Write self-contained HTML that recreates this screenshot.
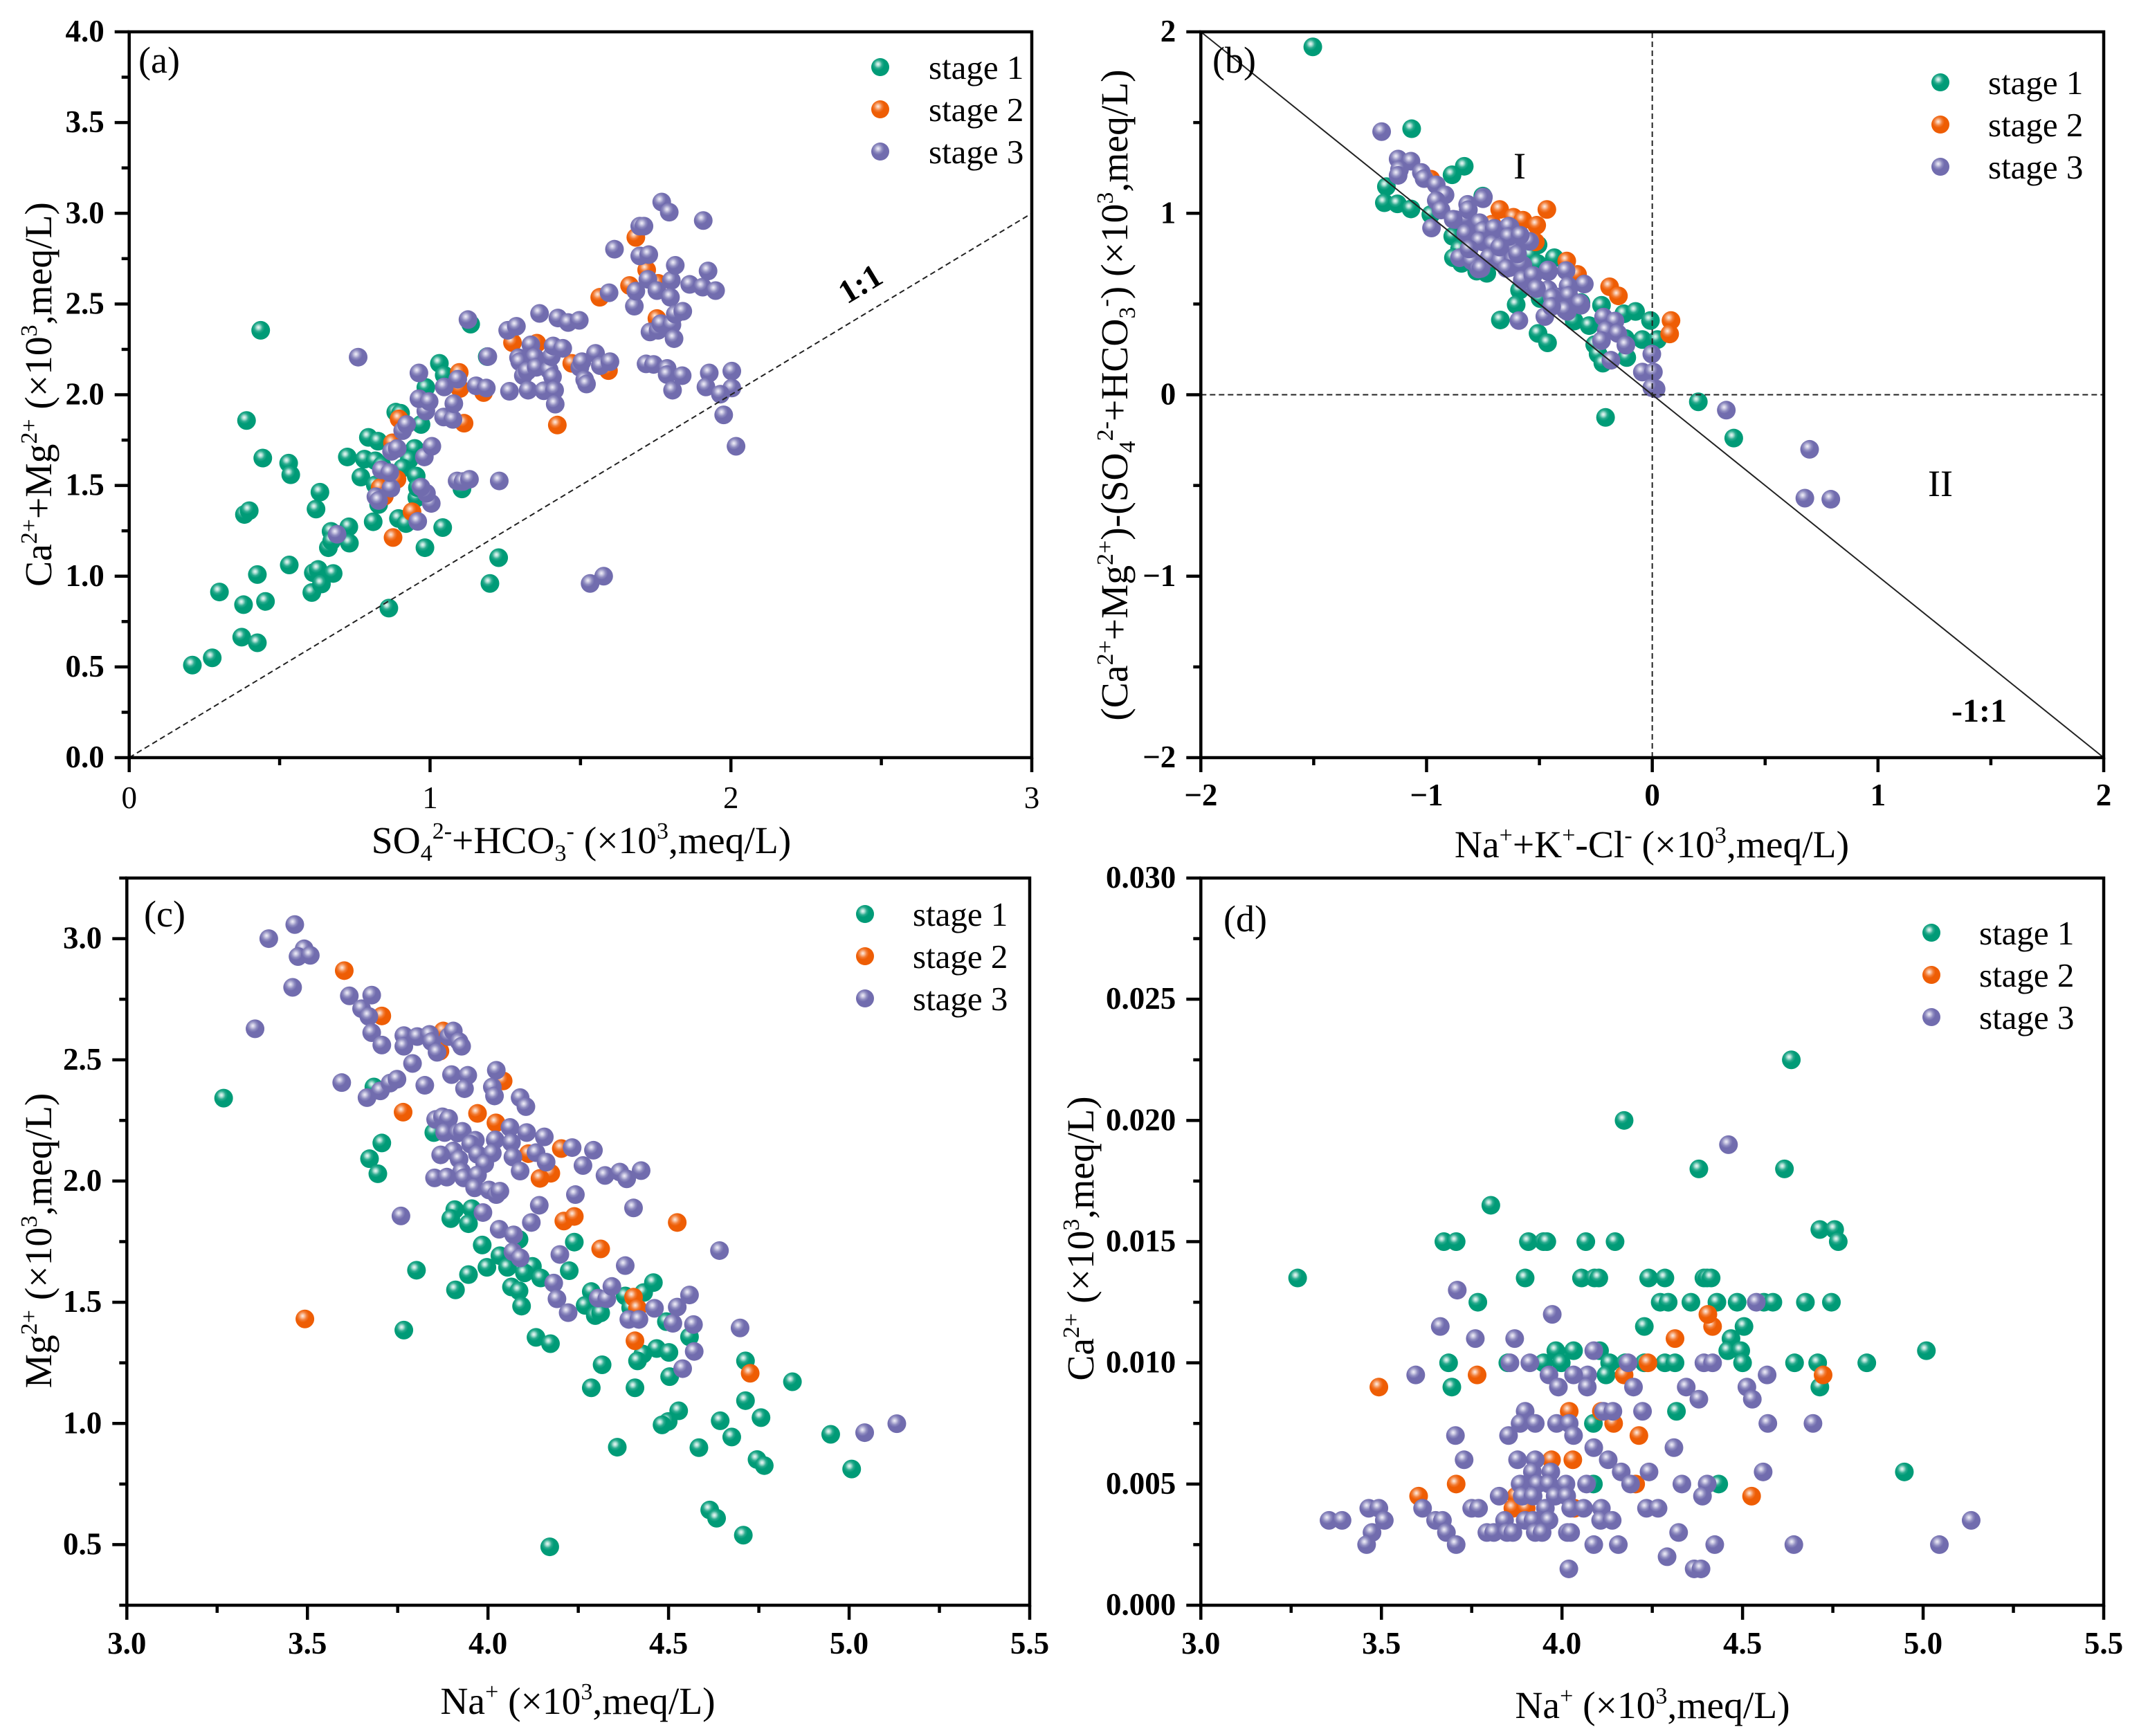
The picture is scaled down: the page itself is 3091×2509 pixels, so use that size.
<!DOCTYPE html>
<html lang="en">
<head>
<meta charset="utf-8">
<title>Hydrochemical ion relationship scatter plots</title>
<style>
  html, body { margin: 0; padding: 0; background: #fff; }
  svg { display: block; }
  text { font-family: "Liberation Serif", serif; fill: #000; }
</style>
</head>
<body>
<svg id="figure" xmlns="http://www.w3.org/2000/svg" width="3091" height="2509" viewBox="0 0 3091 2509">
  <defs>
    <radialGradient id="ball-green" cx="0.38" cy="0.34" r="0.62">
      <stop offset="0" stop-color="#eef8f6"/><stop offset="0.14" stop-color="#b4e2d8"/><stop offset="0.36" stop-color="#2aab8e"/><stop offset="0.56" stop-color="#009b77"/><stop offset="1" stop-color="#009b77"/>
    </radialGradient>
    <radialGradient id="ball-orange" cx="0.38" cy="0.34" r="0.62">
      <stop offset="0" stop-color="#fdeee6"/><stop offset="0.14" stop-color="#f9c4a4"/><stop offset="0.36" stop-color="#f27c35"/><stop offset="0.56" stop-color="#ee5d04"/><stop offset="1" stop-color="#ee5d04"/>
    </radialGradient>
    <radialGradient id="ball-purple" cx="0.38" cy="0.34" r="0.62">
      <stop offset="0" stop-color="#f1f0f8"/><stop offset="0.14" stop-color="#cfcde5"/><stop offset="0.36" stop-color="#8f8cc0"/><stop offset="0.56" stop-color="#716cae"/><stop offset="1" stop-color="#716cae"/>
    </radialGradient>
  </defs>
  <rect x="0" y="0" width="3091" height="2509" fill="#ffffff"/>

  <g id="panel-a"></g>
  <g id="panel-b"></g>
  <g id="panel-c"></g>
  <g id="panel-d"></g>

  <!-- panel letters -->
  <text x="200" y="105" font-size="54">(a)</text>
  <text x="1752" y="105" font-size="54">(b)</text>
  <text x="208" y="1339" font-size="54">(c)</text>
  <text x="1768" y="1346" font-size="54">(d)</text>

  <!-- legends -->
  <g font-size="49">
    <circle cx="1272" cy="97" r="13" fill="url(#ball-green)"/>
    <text x="1342" y="114">stage 1</text>
    <circle cx="1272" cy="158" r="13" fill="url(#ball-orange)"/>
    <text x="1342" y="175">stage 2</text>
    <circle cx="1272" cy="219" r="13" fill="url(#ball-purple)"/>
    <text x="1342" y="236">stage 3</text>
  </g>
  <g font-size="49">
    <circle cx="2804" cy="119" r="13" fill="url(#ball-green)"/>
    <text x="2873" y="136">stage 1</text>
    <circle cx="2804" cy="180" r="13" fill="url(#ball-orange)"/>
    <text x="2873" y="197">stage 2</text>
    <circle cx="2804" cy="241" r="13" fill="url(#ball-purple)"/>
    <text x="2873" y="258">stage 3</text>
  </g>
  <g font-size="49">
    <circle cx="1250" cy="1321" r="13" fill="url(#ball-green)"/>
    <text x="1319" y="1338">stage 1</text>
    <circle cx="1250" cy="1382" r="13" fill="url(#ball-orange)"/>
    <text x="1319" y="1399">stage 2</text>
    <circle cx="1250" cy="1443" r="13" fill="url(#ball-purple)"/>
    <text x="1319" y="1460">stage 3</text>
  </g>
  <g font-size="49">
    <circle cx="2791" cy="1348" r="13" fill="url(#ball-green)"/>
    <text x="2860" y="1365">stage 1</text>
    <circle cx="2791" cy="1409" r="13" fill="url(#ball-orange)"/>
    <text x="2860" y="1426">stage 2</text>
    <circle cx="2791" cy="1470" r="13" fill="url(#ball-purple)"/>
    <text x="2860" y="1487">stage 3</text>
  </g>

  <!-- annotations -->
  <text x="1243" y="426" font-size="48" font-weight="bold" text-anchor="middle" transform="rotate(-31.1 1243 410)">1:1</text>
  <text x="2820" y="1043" font-size="48" font-weight="bold">-1:1</text>
  <text x="2196" y="258" font-size="54" text-anchor="middle">I</text>
  <text x="2804" y="717" font-size="54" text-anchor="middle">II</text>

  <!-- axis titles -->
  <text x="840" y="1233" font-size="55.5" text-anchor="middle">SO<tspan font-size="34" dy="11">4</tspan><tspan font-size="34" dy="-32">2-</tspan><tspan dy="21">+HCO</tspan><tspan font-size="34" dy="11">3</tspan><tspan font-size="34" dy="-32">-</tspan><tspan dy="21"> (×10</tspan><tspan font-size="34" dy="-21">3</tspan><tspan dy="21">,meq/L)</tspan></text>
  <text font-size="55.5" text-anchor="middle" transform="translate(74 570) rotate(-90)">Ca<tspan font-size="34" dy="-21">2+</tspan><tspan dy="21">+Mg</tspan><tspan font-size="34" dy="-21">2+</tspan><tspan dy="21"> (×10</tspan><tspan font-size="34" dy="-21">3</tspan><tspan dy="21">,meq/L)</tspan></text>
  <text x="2387" y="1239" font-size="55.5" text-anchor="middle">Na<tspan font-size="34" dy="-21">+</tspan><tspan dy="21">+K</tspan><tspan font-size="34" dy="-21">+</tspan><tspan dy="21">-Cl</tspan><tspan font-size="34" dy="-21">-</tspan><tspan dy="21"> (×10</tspan><tspan font-size="34" dy="-21">3</tspan><tspan dy="21">,meq/L)</tspan></text>
  <text font-size="55.5" text-anchor="middle" transform="translate(1629 571) rotate(-90)">(Ca<tspan font-size="34" dy="-21">2+</tspan><tspan dy="21">+Mg</tspan><tspan font-size="34" dy="-21">2+</tspan><tspan dy="21">)-(SO</tspan><tspan font-size="34" dy="11">4</tspan><tspan font-size="34" dy="-32">2-</tspan><tspan dy="21">+HCO</tspan><tspan font-size="34" dy="11">3</tspan><tspan font-size="34" dy="-32">-</tspan><tspan dy="21">) (×10</tspan><tspan font-size="34" dy="-21">3</tspan><tspan dy="21">,meq/L)</tspan></text>
  <text x="835" y="2477" font-size="55.5" text-anchor="middle">Na<tspan font-size="34" dy="-21">+</tspan><tspan dy="21"> (×10</tspan><tspan font-size="34" dy="-21">3</tspan><tspan dy="21">,meq/L)</tspan></text>
  <text font-size="55.5" text-anchor="middle" transform="translate(74 1793) rotate(-90)">Mg<tspan font-size="34" dy="-21">2+</tspan><tspan dy="21"> (×10</tspan><tspan font-size="34" dy="-21">3</tspan><tspan dy="21">,meq/L)</tspan></text>
  <text x="2388" y="2483" font-size="55.5" text-anchor="middle">Na<tspan font-size="34" dy="-21">+</tspan><tspan dy="21"> (×10</tspan><tspan font-size="34" dy="-21">3</tspan><tspan dy="21">,meq/L)</tspan></text>
  <text font-size="55.5" text-anchor="middle" transform="translate(1580 1790) rotate(-90)">Ca<tspan font-size="34" dy="-21">2+</tspan><tspan dy="21"> (×10</tspan><tspan font-size="34" dy="-21">3</tspan><tspan dy="21">,meq/L)</tspan></text>
</svg>

<script>
// ---------- Panel (a): SO4+HCO3 vs Ca+Mg ----------
const aXTicks = [0, 1, 2, 3];
const aXLabels = ['0', '1', '2', '3'];
const aXMinor = [0.5, 1.5, 2.5];
const aYTicks = [0, 0.5, 1, 1.5, 2, 2.5, 3, 3.5, 4];
const aYLabels = ['0.0', '0.5', '1.0', '1.5', '2.0', '2.5', '3.0', '3.5', '4.0'];
const aYMinor = [0.25, 0.75, 1.25, 1.75, 2.25, 2.75, 3.25, 3.75];
const aStage1X = [0.21,0.276,0.30,0.38,0.374,0.426,0.453,0.426,0.532,0.607,0.612,0.628,0.639,0.678,0.383,0.399,0.39,0.437,0.444,0.53,0.537,0.634,0.621,0.671,0.662,0.673,0.73,0.732,0.811,0.895,0.92,0.983,1.042,0.863,1.199,1.228,0.77,0.725,0.782,0.795,0.827,0.818,0.84,0.818,0.829,0.886,0.902,0.97,0.949,0.931,0.909,0.954,0.956,0.986,1.031,1.047,1.135,1.19,1.106,0.958];
const aStage1Y = [0.51,0.55,0.913,0.843,0.664,0.633,0.861,1.009,1.062,0.91,1.019,1.037,0.957,1.015,1.34,1.361,1.858,2.355,1.651,1.623,1.559,1.463,1.37,1.247,1.157,1.194,1.272,1.182,1.30,1.318,1.29,1.157,1.268,0.824,0.96,1.102,1.546,1.657,1.645,1.765,1.744,1.636,1.61,1.503,1.395,1.904,1.898,1.836,1.704,1.642,1.596,1.552,1.432,2.04,2.173,2.108,2.389,2.21,1.481,1.488];
const aStage2X = [0.877,0.94,0.834,0.848,0.89,0.875,0.897,1.113,1.099,1.097,1.178,1.274,1.355,1.423,1.471,1.593,1.564,1.663,1.684,1.72,1.758,1.754];
const aStage2Y = [1.213,1.355,1.488,1.441,1.534,1.735,1.867,1.843,2.034,2.123,2.012,2.287,2.284,1.833,2.173,2.133,2.537,2.602,2.867,2.688,2.614,2.42];
const aStage3X = [0.761,0.691,0.959,1.004,0.988,0.97,0.87,0.82,0.829,0.838,0.866,0.872,0.891,0.909,0.922,0.981,1.006,0.986,0.963,0.997,0.963,1.045,1.076,1.079,1.047,1.092,1.09,1.11,1.131,1.23,1.126,1.192,1.153,1.187,1.264,1.258,1.287,1.294,1.298,1.31,1.323,1.326,1.335,1.348,1.353,1.364,1.378,1.396,1.403,1.409,1.407,1.414,1.416,1.425,1.441,1.459,1.496,1.498,1.505,1.514,1.52,1.55,1.566,1.598,1.595,1.613,1.697,1.711,1.697,1.727,1.679,1.684,1.724,1.754,1.802,1.799,1.815,1.77,1.795,1.908,1.924,1.863,1.906,1.949,1.731,1.758,1.767,1.804,1.815,1.84,1.811,1.718,1.743,1.788,1.788,1.838,1.806,1.928,2.003,1.917,2.003,1.965,1.976,2.017,1.532,1.577];
const aStage3Y = [2.207,1.231,1.302,1.401,1.457,1.491,1.485,1.438,1.417,1.586,1.571,1.688,1.704,1.802,1.836,1.657,1.716,1.91,1.978,1.963,2.12,1.877,1.864,1.951,2.043,2.086,1.525,1.522,1.534,1.525,2.414,2.21,2.049,2.037,2.019,2.355,2.377,2.204,2.182,2.105,2.13,2.025,2.275,2.207,2.151,2.448,2.022,2.136,2.21,2.269,2.099,2.025,1.948,2.423,2.256,2.398,2.41,2.151,2.182,2.083,2.059,2.228,2.16,2.182,2.562,2.802,2.929,2.929,2.765,2.772,2.488,2.571,2.636,2.574,2.63,2.537,2.713,3.062,3.006,2.96,2.682,2.608,2.593,2.574,2.346,2.355,2.392,2.386,2.444,2.46,2.309,2.17,2.167,2.145,2.111,2.105,2.025,2.12,2.13,2.043,2.037,2.003,1.889,1.716,0.96,1.0];
const aRefLineX = [0, 3];
const aRefLineY = [0, 3];

// ---------- Panel (b): Na+K-Cl vs (Ca+Mg)-(SO4+HCO3) ----------
const bXTicks = [-2, -1, 0, 1, 2];
const bXLabels = ['\u22122', '\u22121', '0', '1', '2'];
const bXMinor = [-1.5, -0.5, 0.5, 1.5];
const bYTicks = [-2, -1, 0, 1, 2];
const bYLabels = ['\u22122', '\u22121', '0', '1', '2'];
const bYMinor = [-1.5, -0.5, 0.5, 1.5];
const bStage1X = [-1.504,-1.066,-0.833,-0.887,-1.178,-1.187,-1.129,-1.069,-0.981,-0.884,-0.854,-0.881,-0.845,-0.778,-0.733,-0.751,-0.528,-0.506,-0.54,-0.509,-0.434,-0.588,-0.603,-0.673,-0.497,-0.506,-0.464,-0.346,-0.28,-0.225,-0.126,-0.074,-0.008,-0.044,0.023,-0.255,-0.24,-0.219,-0.113,-0.119,-0.207,0.204,0.361,-0.316];
const bStage1Y = [1.917,1.466,1.259,1.212,1.147,1.058,1.052,1.024,0.993,0.873,0.802,0.755,0.724,0.681,0.669,1.095,0.826,0.826,0.771,0.724,0.755,0.576,0.496,0.412,0.53,0.338,0.286,0.406,0.381,0.493,0.446,0.459,0.409,0.304,0.304,0.276,0.224,0.174,0.205,0.31,-0.125,-0.039,-0.239,0.508];
const bStage2X = [-0.981,-0.676,-0.615,-0.573,-0.467,-0.512,-0.518,-0.379,-0.331,-0.189,-0.15,0.083,0.077,-0.71];
const bStage2Y = [1.188,1.021,0.978,0.962,1.021,0.934,0.842,0.737,0.663,0.595,0.545,0.409,0.335,0.94];
const bStage3X = [-1.199,-1.126,-1.069,-1.12,-1.126,-1.023,-1.011,-0.957,-0.918,-0.957,-0.936,-0.978,-0.872,-0.818,-0.815,-0.748,-0.827,-0.763,-0.824,-0.751,-0.697,-0.63,-0.751,-0.709,-0.615,-0.543,-0.854,-0.799,-0.724,-0.77,-0.679,-0.633,-0.612,-0.573,-0.576,-0.528,-0.543,-0.461,-0.382,-0.461,-0.367,-0.301,-0.422,-0.376,-0.316,-0.476,-0.591,-0.361,-0.216,-0.165,-0.204,-0.153,-0.225,-0.117,-0.183,-0.002,-0.044,0.005,0.017,-0.002,0.328,0.697,0.676,0.791,-0.815,-0.75,-0.882,-0.765,-0.826,-0.75,-0.70,-0.636,-0.765,-0.707,-0.62,-0.811,-0.722,-0.759,-0.672,-0.615,-0.646,-0.581,-0.575,-0.529,-0.462,-0.373,-0.513,-0.443,-0.37,-0.32,-0.385,-0.446,-0.636,-0.676,-0.585,-0.597];
const bStage3Y = [1.45,1.299,1.287,1.24,1.209,1.225,1.191,1.157,1.101,1.07,1.018,0.919,0.965,1.049,1.018,1.089,0.971,0.94,0.888,0.907,0.913,0.925,0.842,0.829,0.817,0.845,0.755,0.737,0.752,0.693,0.74,0.7,0.749,0.715,0.632,0.656,0.601,0.678,0.684,0.579,0.592,0.61,0.539,0.459,0.493,0.431,0.409,0.524,0.428,0.406,0.354,0.338,0.298,0.273,0.19,0.224,0.125,0.125,0.032,0.039,-0.085,-0.301,-0.57,-0.576,1.02,1.08,0.967,0.948,0.89,0.905,0.917,0.929,0.848,0.83,0.818,0.803,0.757,0.696,0.738,0.745,0.696,0.719,0.635,0.658,0.688,0.6,0.585,0.536,0.547,0.505,0.467,0.486,0.871,0.814,0.879,0.776];
const bRefLineX = [-2, 2];
const bRefLineY = [2, -2];

// ---------- Panel (c): Na vs Mg ----------
const cXTicks = [3, 3.5, 4, 4.5, 5, 5.5];
const cXLabels = ['3.0', '3.5', '4.0', '4.5', '5.0', '5.5'];
const cXMinor = [3.25, 3.75, 4.25, 4.75, 5.25];
const cYTicks = [0.5, 1, 1.5, 2, 2.5, 3];
const cYLabels = ['0.5', '1.0', '1.5', '2.0', '2.5', '3.0'];
const cYMinor = [0.25, 0.75, 1.25, 1.75, 2.25, 2.75, 3.25];
const cStage1X = [3.268,3.684,3.85,3.706,3.672,3.695,3.767,3.908,3.897,3.955,3.946,3.984,3.802,3.91,3.946,3.997,4.033,4.054,4.086,4.123,4.101,4.146,4.065,4.086,4.093,4.133,4.173,4.239,4.225,4.286,4.269,4.297,4.312,4.38,4.431,4.458,4.395,4.494,4.558,4.467,4.501,4.429,4.414,4.316,4.286,4.407,4.503,4.713,4.843,4.713,4.756,4.528,4.499,4.482,4.643,4.675,4.584,4.358,4.949,5.007,4.745,4.765,4.614,4.633,4.707,4.171];
const cStage1Y = [2.342,2.388,2.2,2.157,2.092,2.03,1.385,1.882,1.845,1.886,1.824,1.736,1.632,1.551,1.614,1.644,1.692,1.644,1.759,1.648,1.621,1.6,1.563,1.547,1.484,1.355,1.329,1.748,1.63,1.544,1.487,1.445,1.456,1.526,1.54,1.581,1.477,1.42,1.357,1.309,1.293,1.286,1.258,1.242,1.147,1.147,1.193,1.258,1.172,1.094,1.024,1.052,1.008,0.994,1.011,0.944,0.9,0.902,0.955,0.812,0.851,0.826,0.643,0.609,0.539,0.491];
const cStage2X = [3.493,3.602,3.706,3.765,3.876,3.867,3.971,4.022,4.042,4.112,4.203,4.174,4.144,4.21,4.239,4.312,4.524,4.403,4.414,4.407,4.726];
const cStage2Y = [1.431,2.868,2.681,2.284,2.619,2.536,2.279,2.24,2.413,2.113,2.134,2.032,2.011,1.835,1.854,1.72,1.829,1.521,1.475,1.341,1.207];
const cStage3X = [3.465,3.393,3.491,3.474,3.508,3.459,3.355,3.616,3.678,3.65,3.67,3.678,3.706,3.767,3.767,3.804,3.838,3.844,3.859,3.891,3.904,3.92,3.927,3.791,3.595,3.665,3.702,3.729,3.748,3.825,3.899,3.944,3.935,4.023,4.012,4.018,4.089,4.105,3.855,3.874,3.891,3.88,3.916,3.929,3.965,3.952,4.02,4.061,4.065,4.107,4.156,4.133,3.904,3.869,3.971,3.92,4.012,3.991,4.069,4.161,4.233,4.292,4.263,4.089,3.927,3.852,3.886,3.933,3.971,3.963,4.003,4.023,4.033,4.324,4.365,4.384,4.424,4.242,4.403,4.142,3.986,3.759,4.12,4.031,4.071,4.069,4.089,4.199,4.38,4.641,4.182,4.191,4.222,4.305,4.329,4.343,4.39,4.418,4.461,4.524,4.558,4.512,4.569,4.698,4.571,4.539,5.043,5.132];
const cStage3Y = [3.058,3.0,2.958,2.926,2.931,2.799,2.628,2.764,2.767,2.711,2.679,2.612,2.561,2.6,2.556,2.596,2.605,2.575,2.531,2.596,2.619,2.575,2.556,2.485,2.406,2.344,2.372,2.404,2.42,2.395,2.439,2.436,2.381,2.457,2.388,2.351,2.344,2.307,2.254,2.265,2.258,2.2,2.198,2.205,2.168,2.152,2.17,2.221,2.159,2.2,2.182,2.117,2.124,2.108,2.11,2.09,2.115,2.071,2.099,2.078,2.138,2.127,2.064,2.041,2.039,2.013,2.016,2.013,2.025,1.972,1.963,1.944,1.958,2.023,2.037,2.009,2.043,1.944,1.889,1.9,1.87,1.856,1.829,1.801,1.778,1.708,1.683,1.697,1.651,1.713,1.579,1.514,1.457,1.517,1.514,1.565,1.429,1.429,1.475,1.48,1.53,1.413,1.408,1.394,1.297,1.226,0.962,0.999];

// ---------- Panel (d): Na vs Ca ----------
const dXTicks = [3, 3.5, 4, 4.5, 5, 5.5];
const dXLabels = ['3.0', '3.5', '4.0', '4.5', '5.0', '5.5'];
const dXMinor = [3.25, 3.75, 4.25, 4.75, 5.25];
const dYTicks = [0, 0.005, 0.01, 0.015, 0.02, 0.025, 0.03];
const dYLabels = ['0.000', '0.005', '0.010', '0.015', '0.020', '0.025', '0.030'];
const dYMinor = [0.0025, 0.0075, 0.0125, 0.0175, 0.0225, 0.0275];
const dStage1X = [3.268,3.673,3.707,3.803,3.907,3.949,3.958,4.066,4.147,3.898,4.054,4.09,4.102,4.24,4.285,4.393,4.402,4.413,4.172,4.635,4.379,4.616,4.714,4.755,4.765,3.767,4.272,4.294,4.357,4.429,4.485,4.559,4.584,4.674,4.746,4.228,4.504,4.468,4.459,4.495,5.009,3.983,4.032,4.104,3.686,3.85,3.949,3.998,4.132,4.175,4.228,4.285,4.313,4.5,4.644,4.708,4.844,3.695,4.714,4.122,4.317,4.087,4.087,4.434,4.948];
const dStage1Y = [0.0135,0.015,0.015,0.0165,0.015,0.015,0.015,0.015,0.015,0.0135,0.0135,0.0135,0.0135,0.0135,0.0135,0.0135,0.0135,0.0135,0.02,0.0225,0.018,0.018,0.0155,0.0155,0.015,0.0125,0.0125,0.0125,0.0125,0.0125,0.0125,0.0125,0.0125,0.0125,0.0125,0.0115,0.0115,0.011,0.0105,0.0105,0.0105,0.0105,0.0105,0.0105,0.01,0.01,0.01,0.01,0.01,0.01,0.01,0.01,0.01,0.01,0.01,0.01,0.01,0.009,0.009,0.0095,0.008,0.0075,0.005,0.005,0.0055];
const dStage2X = [3.493,3.765,4.172,4.723,4.238,4.313,4.417,4.404,4.02,4.109,4.143,4.213,3.971,4.03,3.707,4.204,3.603,4.525,3.873,3.864,3.901,4.034];
const dStage2Y = [0.009,0.0095,0.0095,0.0095,0.01,0.011,0.0115,0.012,0.008,0.008,0.0075,0.007,0.006,0.006,0.005,0.005,0.0045,0.0045,0.0045,0.004,0.004,0.004];
const dStage3X = [4.461,4.538,3.71,3.973,3.663,3.76,3.869,4.088,3.595,3.856,3.911,4.183,4.393,4.417,3.964,4.071,4.032,4.568,3.99,4.07,4.198,4.344,4.512,4.379,4.527,3.898,4.115,4.141,4.223,3.884,3.926,3.985,4.02,4.57,4.695,3.705,3.852,4.032,4.088,4.31,3.729,3.877,3.926,4.128,3.918,3.969,4.164,4.241,4.557,3.884,3.932,3.964,4.011,4.068,4.19,4.332,4.402,3.826,3.89,3.92,3.981,4.013,4.389,3.465,3.493,3.614,3.75,3.769,3.954,4.024,4.06,4.109,4.234,4.266,3.355,3.391,3.508,3.65,3.669,3.841,3.898,3.92,3.964,4.107,4.139,5.133,3.474,3.68,3.792,3.811,3.848,3.864,3.926,3.945,4.015,4.024,4.323,3.459,3.707,4.088,4.156,4.423,4.642,5.045,4.291,4.019,4.366,4.385];
const dStage3Y = [0.019,0.0125,0.013,0.012,0.0115,0.011,0.011,0.0105,0.0095,0.01,0.01,0.01,0.01,0.01,0.0095,0.0095,0.0095,0.0095,0.009,0.009,0.009,0.009,0.009,0.0085,0.0085,0.008,0.008,0.008,0.008,0.0075,0.0075,0.0075,0.0075,0.0075,0.0075,0.007,0.007,0.007,0.0065,0.0065,0.006,0.006,0.006,0.006,0.0055,0.0055,0.0055,0.0055,0.0055,0.005,0.005,0.005,0.005,0.005,0.005,0.005,0.005,0.0045,0.0045,0.0045,0.0045,0.0045,0.0045,0.004,0.004,0.004,0.004,0.004,0.004,0.004,0.004,0.004,0.004,0.004,0.0035,0.0035,0.0035,0.0035,0.0035,0.0035,0.0035,0.0035,0.0035,0.0035,0.0035,0.0035,0.003,0.003,0.003,0.003,0.003,0.003,0.003,0.003,0.003,0.003,0.003,0.0025,0.0025,0.0025,0.0025,0.0025,0.0025,0.0025,0.002,0.0015,0.0015,0.0015];

const SVG_NS = 'http://www.w3.org/2000/svg';
const BALL_RADIUS = 13.5;

function linearScale(d0, d1, r0, r1) {
  return function (v) { return r0 + (v - d0) / (d1 - d0) * (r1 - r0); };
}

function make(parent, tag, attrs) {
  const el = document.createElementNS(SVG_NS, tag);
  for (const k in attrs) el.setAttribute(k, attrs[k]);
  parent.appendChild(el);
  return el;
}

function drawScatter(group, xs, ys, xScale, yScale, fill, stageName) {
  for (let i = 0; i < xs.length; i++) {
    const dot = make(group, 'circle', { cx: xScale(xs[i]), cy: yScale(ys[i]), r: BALL_RADIUS, fill: fill });
    
    
  }
}

function drawRefLine(group, xs, ys, xScale, yScale, dash, name) {
  const line = make(group, 'line', {
    x1: xScale(xs[0]), y1: yScale(ys[0]), x2: xScale(xs[1]), y2: yScale(ys[1]),
    stroke: '#222', 'stroke-width': 2
  });
  if (dash) line.setAttribute('stroke-dasharray', dash);
  
  
}

function drawAxes(group, box, xScale, yScale, xTicks, xLabels, xMinor, yTicks, yLabels, yMinor, xBold, xLabelOffset) {
  const frame = make(group, 'rect', { x: box.left, y: box.top, width: box.right - box.left, height: box.bottom - box.top, fill: 'none', stroke: '#000', 'stroke-width': 4.5 });
  
  

  xTicks.forEach(function (v, i) {
    const t = make(group, 'line', { x1: xScale(v), x2: xScale(v), y1: box.bottom, y2: box.bottom + 21, stroke: '#000', 'stroke-width': 4.5 });
    
    
    const lbl = make(group, 'text', { x: xScale(v), y: box.bottom + xLabelOffset, 'font-size': 45, 'text-anchor': 'middle', 'font-weight': xBold ? 'bold' : 'normal' });
    lbl.textContent = xLabels[i];
    
    
  });
  xMinor.forEach(function (v) {
    const t = make(group, 'line', { x1: xScale(v), x2: xScale(v), y1: box.bottom, y2: box.bottom + 11, stroke: '#000', 'stroke-width': 4.5 });
    
    
  });
  yTicks.forEach(function (v, i) {
    const t = make(group, 'line', { x1: box.left - 21, x2: box.left, y1: yScale(v), y2: yScale(v), stroke: '#000', 'stroke-width': 4.5 });
    
    
    const lbl = make(group, 'text', { x: box.left - 36, y: yScale(v) + 14, 'font-size': 45, 'text-anchor': 'end', 'font-weight': 'bold' });
    lbl.textContent = yLabels[i];
    
    
  });
  yMinor.forEach(function (v) {
    const t = make(group, 'line', { x1: box.left - 11, x2: box.left, y1: yScale(v), y2: yScale(v), stroke: '#000', 'stroke-width': 4.5 });
    
    
  });
}

// Panel (a)
(function () {
  const g = document.getElementById('panel-a');
  const box = { left: 186.7, right: 1491, top: 46, bottom: 1095 };
  const xs = linearScale(0, 3, box.left, box.right);
  const ys = linearScale(0, 4, box.bottom, box.top);
  drawScatter(g, aStage1X, aStage1Y, xs, ys, 'url(#ball-green)', 'stage-1');
  drawScatter(g, aStage2X, aStage2Y, xs, ys, 'url(#ball-orange)', 'stage-2');
  drawScatter(g, aStage3X, aStage3Y, xs, ys, 'url(#ball-purple)', 'stage-3');
  drawRefLine(g, aRefLineX, aRefLineY, xs, ys, '8 5', 'one-to-one-line');
  drawAxes(g, box, xs, ys, aXTicks, aXLabels, aXMinor, aYTicks, aYLabels, aYMinor, false, 73);
})();

// Panel (b)
(function () {
  const g = document.getElementById('panel-b');
  const box = { left: 1735.3, right: 3040, top: 46, bottom: 1095 };
  const xs = linearScale(-2, 2, box.left, box.right);
  const ys = linearScale(-2, 2, box.bottom, box.top);
  drawScatter(g, bStage1X, bStage1Y, xs, ys, 'url(#ball-green)', 'stage-1');
  drawScatter(g, bStage2X, bStage2Y, xs, ys, 'url(#ball-orange)', 'stage-2');
  drawScatter(g, bStage3X, bStage3Y, xs, ys, 'url(#ball-purple)', 'stage-3');
  drawRefLine(g, [-2, 2], [0, 0], xs, ys, '8 5', 'zero-horizontal-line');
  drawRefLine(g, [0, 0], [-2, 2], xs, ys, '8 5', 'zero-vertical-line');
  drawRefLine(g, bRefLineX, bRefLineY, xs, ys, null, 'minus-one-to-one-line');
  drawAxes(g, box, xs, ys, bXTicks, bXLabels, bXMinor, bYTicks, bYLabels, bYMinor, true, 69);
})();

// Panel (c)
(function () {
  const g = document.getElementById('panel-c');
  const box = { left: 183.3, right: 1488, top: 1269, bottom: 2320 };
  const xs = linearScale(3, 5.5, box.left, box.right);
  const ys = linearScale(0.25, 3.25, box.bottom, box.top);
  drawScatter(g, cStage1X, cStage1Y, xs, ys, 'url(#ball-green)', 'stage-1');
  drawScatter(g, cStage2X, cStage2Y, xs, ys, 'url(#ball-orange)', 'stage-2');
  drawScatter(g, cStage3X, cStage3Y, xs, ys, 'url(#ball-purple)', 'stage-3');
  drawAxes(g, box, xs, ys, cXTicks, cXLabels, cXMinor, cYTicks, cYLabels, cYMinor, true, 70);
})();

// Panel (d)
(function () {
  const g = document.getElementById('panel-d');
  const box = { left: 1735.3, right: 3040, top: 1269, bottom: 2320 };
  const xs = linearScale(3, 5.5, box.left, box.right);
  const ys = linearScale(0, 0.03, box.bottom, box.top);
  drawScatter(g, dStage1X, dStage1Y, xs, ys, 'url(#ball-green)', 'stage-1');
  drawScatter(g, dStage2X, dStage2Y, xs, ys, 'url(#ball-orange)', 'stage-2');
  drawScatter(g, dStage3X, dStage3Y, xs, ys, 'url(#ball-purple)', 'stage-3');
  drawAxes(g, box, xs, ys, dXTicks, dXLabels, dXMinor, dYTicks, dYLabels, dYMinor, true, 70);
})();
</script>
</body>
</html>
